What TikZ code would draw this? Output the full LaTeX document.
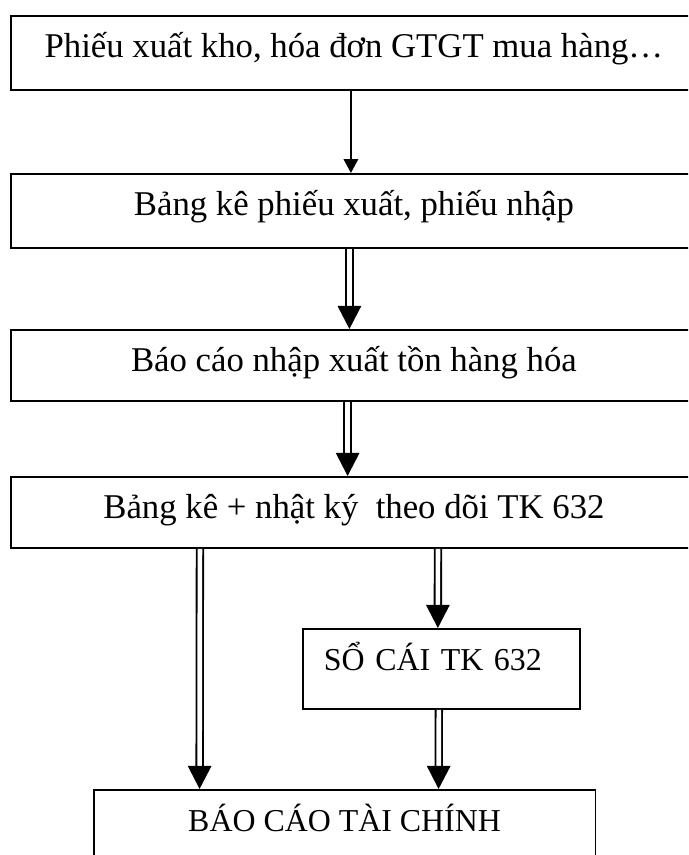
\documentclass[tikz,border=0pt]{standalone}
\usepackage{fontspec}
\setmainfont{Liberation Serif}
\usetikzlibrary{arrows.meta}
\newcommand{\pxu}{0.3857pt}

\begin{document}
\begin{tikzpicture}[x=\pxu,y=-\pxu,line width=0.7pt,
  every node/.style={font=\fontsize{13.4pt}{16pt}\selectfont},
  mainbox/.style={draw,anchor=north west,inner ysep=0pt,minimum width=264.6pt,
    text height=16.2pt,text depth=12.3pt},
  lowbox/.style={mainbox,text depth=11.2pt},
  ledger/.style={draw,anchor=north west,inner ysep=0pt,inner xsep=8.1pt,
    text width=90.6pt,align=left,text height=16.2pt,text depth=14.7pt,
    font=\fontsize{12.3pt}{15pt}\selectfont},
  report/.style={mainbox,minimum width=193.6pt,font=\fontsize{12.3pt}{15pt}\selectfont},
  onearrow/.style={-{Triangle[length=5.4pt,width=5.6pt]}},
  dblarrow/.style={double,double distance=1.8pt,-{Triangle[length=8.9pt,width=9pt]}}]

  \useasboundingbox (0,0) rectangle (688,855);
  \clip (0,0) rectangle (688,855);

  \node[mainbox] (src) at (10,15) {Phiếu xuất kho, hóa đơn GTGT mua hàng…};
  \node[mainbox] (bangke) at (10,173) {Bảng kê phiếu xuất, phiếu nhập};
  \node[lowbox] (baocao) at (10,329) {Báo cáo nhập xuất tồn hàng hóa};
  \node[lowbox] (nhatky) at (10,476) {Bảng kê + nhật ký\ \ theo dõi TK 632};
  \node[ledger] (socai) at (302,628) {SỔ~CÁI~TK~632};
  \node[report] (bctc) at (92.7,789) {BÁO CÁO TÀI CHÍNH};

  \draw[onearrow] ([xshift=-3*\pxu]src.south) -- ([xshift=-3*\pxu]bangke.north);
  \draw[dblarrow] ([xshift=-4.5*\pxu]bangke.south) -- ([xshift=-4.5*\pxu]baocao.north);
  \draw[dblarrow] ([xshift=-6.3*\pxu]baocao.south) -- ([xshift=-6.3*\pxu]nhatky.north);
  \draw[dblarrow] ([xshift=-154*\pxu]nhatky.south) -- ([xshift=-145*\pxu]bctc.north);
  \draw[dblarrow] ([xshift=84*\pxu]nhatky.south) -- ([xshift=-3.5*\pxu]socai.north);
  \draw[dblarrow] ([xshift=-2.5*\pxu]socai.south) -- ([xshift=94*\pxu]bctc.north);

\end{tikzpicture}
\end{document}
